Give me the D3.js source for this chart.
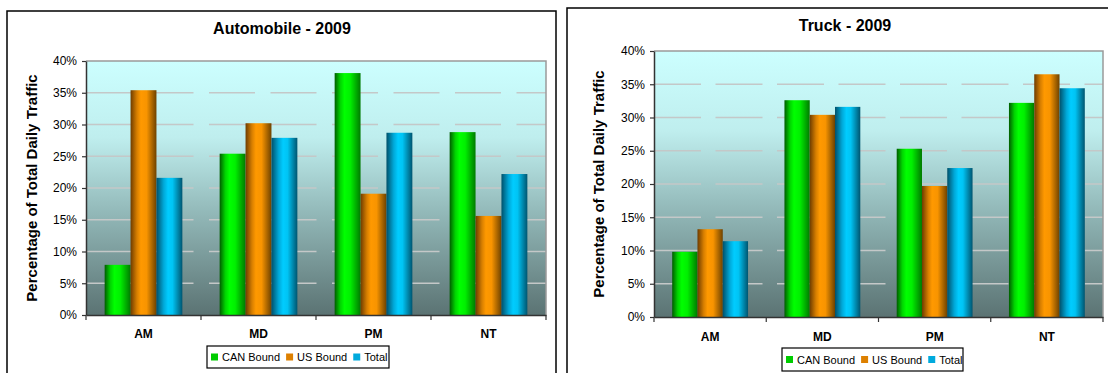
<!DOCTYPE html>
<html>
<head>
<meta charset="utf-8">
<script src="https://cdn.jsdelivr.net/npm/d3@7"></script>
<style>
  html, body { margin: 0; padding: 0; background: #fff; }
  svg { display: block; font-family: "Liberation Sans", Arial, sans-serif; }
</style>
</head>
<body>
<svg id="chart" width="1108" height="373"></svg>
<script>
// ---- data ----
const categories = ["AM", "MD", "PM", "NT"];
const seriesNames = ["CAN Bound", "US Bound", "Total"];
const autoCAN   = [7.9, 25.4, 38.1, 28.8];
const autoUS    = [35.4, 30.2, 19.1, 15.6];
const autoTotal = [21.6, 27.9, 28.7, 22.2];
const truckCAN   = [9.8, 32.6, 25.3, 32.2];
const truckUS    = [13.2, 30.4, 19.7, 36.5];
const truckTotal = [11.4, 31.6, 22.4, 34.4];
const yTicks = [0, 5, 10, 15, 20, 25, 30, 35, 40];
const titles = ["Automobile - 2009", "Truck - 2009"];
const yTitle = "Percentage of Total Daily Traffic";

// ---- styles / layout ----
const seriesStyles = [
  { id: "gGreen",  stops: [["0", "#005c00"], ["0.22", "#00d400"], ["0.38", "#00ff00"], ["0.6", "#00f000"], ["1", "#007a00"]], swatch: "#00cc00" },
  { id: "gOrange", stops: [["0", "#6e3c00"], ["0.25", "#d87f00"], ["0.4", "#ff9900"], ["0.62", "#f89400"], ["1", "#6e4200"]], swatch: "#dd8000" },
  { id: "gBlue",   stops: [["0", "#00506a"], ["0.28", "#00a8d8"], ["0.45", "#00ccff"], ["0.62", "#00c4f4"], ["1", "#005570"]], swatch: "#00aadd" }
];

const charts = [
  { title: titles[0], values: [autoCAN, autoUS, autoTotal],
    frame: { x: 7, y: 11, w: 549, h: 420 },
    plot: { x0: 86, x1: 546, y0: 61, y1: 315 },
    titleY: 33.5, yTitleX: 37, catY: 338, dash: "46,15.5",
    legend: { x: 207, y: 346, w: 182, h: 22 } },
  { title: titles[1], values: [truckCAN, truckUS, truckTotal],
    frame: { x: 567, y: 8, w: 600, h: 420 },
    plot: { x0: 654, x1: 1103, y0: 51, y1: 317 },
    titleY: 31, yTitleX: 604, catY: 341, dash: "47,14.5",
    legend: { x: 782, y: 348, w: 181, h: 23 } }
];

const svg = d3.select("#chart");
const defs = svg.append("defs");

seriesStyles.forEach(s => {
  const g = defs.append("linearGradient").attr("id", s.id)
    .attr("x1", 0).attr("x2", 1).attr("y1", 0).attr("y2", 0);
  s.stops.forEach(([o, c]) => g.append("stop").attr("offset", o).attr("stop-color", c));
});
const bg = defs.append("linearGradient").attr("id", "plotBg")
  .attr("x1", 0).attr("x2", 0).attr("y1", 0).attr("y2", 1);
[["0", "#ccffff"], ["0.3", "#bfeeee"], ["0.6", "#92b8b8"], ["1", "#5b7373"]]
  .forEach(([o, c]) => bg.append("stop").attr("offset", o).attr("stop-color", c));

charts.forEach(ch => {
  const g = svg.append("g");
  const p = ch.plot;

  // frame
  g.append("rect")
    .attr("x", ch.frame.x).attr("y", ch.frame.y)
    .attr("width", ch.frame.w).attr("height", ch.frame.h)
    .attr("fill", "#fff").attr("stroke", "#000").attr("stroke-width", 1.5);

  const x0 = d3.scaleBand().domain(categories).range([p.x0, p.x1]).padding(0);
  const x1 = d3.scaleBand().domain(seriesNames).range([0, x0.bandwidth()])
    .paddingInner(0).paddingOuter(0.72);
  const y = d3.scaleLinear().domain([0, 40]).range([p.y1, p.y0]);

  // plot background
  g.append("rect").attr("x", p.x0).attr("y", p.y0)
    .attr("width", p.x1 - p.x0).attr("height", p.y1 - p.y0)
    .attr("fill", "url(#plotBg)");

  // gridlines
  g.append("g").selectAll("line").data(yTicks.filter(t => t > 0 && t < 40)).join("line")
    .attr("x1", p.x0).attr("x2", p.x1)
    .attr("y1", d => y(d)).attr("y2", d => y(d))
    .attr("stroke", "#c4c8c8").attr("stroke-width", 1.6)
    .attr("stroke-dasharray", ch.dash);

  // plot border top/right
  g.append("path")
    .attr("d", `M${p.x0},${p.y0}H${p.x1}V${p.y1}`)
    .attr("fill", "none").attr("stroke", "#9a9a9a").attr("stroke-width", 1.5);

  // bars
  const groups = g.append("g").selectAll("g").data(categories).join("g")
    .attr("transform", d => `translate(${x0(d)},0)`);
  groups.selectAll("rect").data((c, ci) => seriesNames.map((s, si) => ({ s, si, v: ch.values[si][ci] })))
    .join("rect")
    .attr("x", d => x1(d.s))
    .attr("width", x1.bandwidth())
    .attr("y", d => y(d.v))
    .attr("height", d => y(0) - y(d.v))
    .attr("fill", d => `url(#${seriesStyles[d.si].id})`);

  // y axis
  const ya = g.append("g").attr("transform", `translate(${p.x0},0)`)
    .call(d3.axisLeft(y).tickValues(yTicks).tickFormat(d => d + "%").tickSize(4).tickSizeOuter(0));
  ya.select(".domain").attr("stroke", "#333").attr("stroke-width", 1.5);
  ya.selectAll(".tick line").attr("stroke", "#333").attr("stroke-width", 1.2);
  ya.selectAll(".tick text").attr("font-size", "12px").attr("fill", "#000")
    .attr("font-family", "Liberation Sans, Arial, sans-serif").attr("dx", "-2");

  // x axis
  const xa = g.append("g").attr("transform", `translate(0,${p.y1})`)
    .call(d3.axisBottom(x0).tickSize(0).tickFormat(""));
  xa.select(".domain").attr("stroke", "#333").attr("stroke-width", 1.5);
  const bounds = categories.map(c => x0(c)).concat([p.x1]);
  xa.selectAll(".bt").data(bounds).join("line").attr("class", "bt")
    .attr("x1", d => d).attr("x2", d => d).attr("y1", 0).attr("y2", 5)
    .attr("stroke", "#333").attr("stroke-width", 1.2);
  g.append("g").selectAll("text").data(categories).join("text")
    .attr("x", d => x0(d) + x0.bandwidth() / 2).attr("y", ch.catY)
    .attr("text-anchor", "middle").attr("font-size", "12px").attr("font-weight", "bold")
    .text(d => d);

  // title
  g.append("text")
    .attr("x", (ch.frame.x + Math.min(ch.frame.x + ch.frame.w, 1108 + 16)) / 2)
    .attr("x", ch === charts[0] ? 282 : 845)
    .attr("y", ch.titleY).attr("text-anchor", "middle")
    .attr("font-size", "16px").attr("font-weight", "bold").text(ch.title);

  // y title
  g.append("text")
    .attr("transform", `translate(${ch.yTitleX},${(p.y0 + p.y1) / 2}) rotate(-90)`)
    .attr("text-anchor", "middle").attr("font-size", "15px").attr("font-weight", "bold")
    .text(yTitle);

  // legend
  const L = ch.legend;
  const lg = g.append("g");
  lg.append("rect").attr("x", L.x).attr("y", L.y).attr("width", L.w).attr("height", L.h)
    .attr("fill", "#fff").attr("stroke", "#000").attr("stroke-width", 1.2);
  let cx = L.x + 4;
  const cy = L.y + L.h / 2;
  seriesNames.forEach((s, i) => {
    lg.append("rect").attr("x", cx).attr("y", cy - 3.5).attr("width", 7).attr("height", 7)
      .attr("fill", seriesStyles[i].swatch);
    cx += 11;
    const t = lg.append("text").attr("x", cx).attr("y", cy + 4)
      .attr("font-size", "11px").text(s);
    cx += t.node().getComputedTextLength() + 6;
  });
});
</script>
</body>
</html>
